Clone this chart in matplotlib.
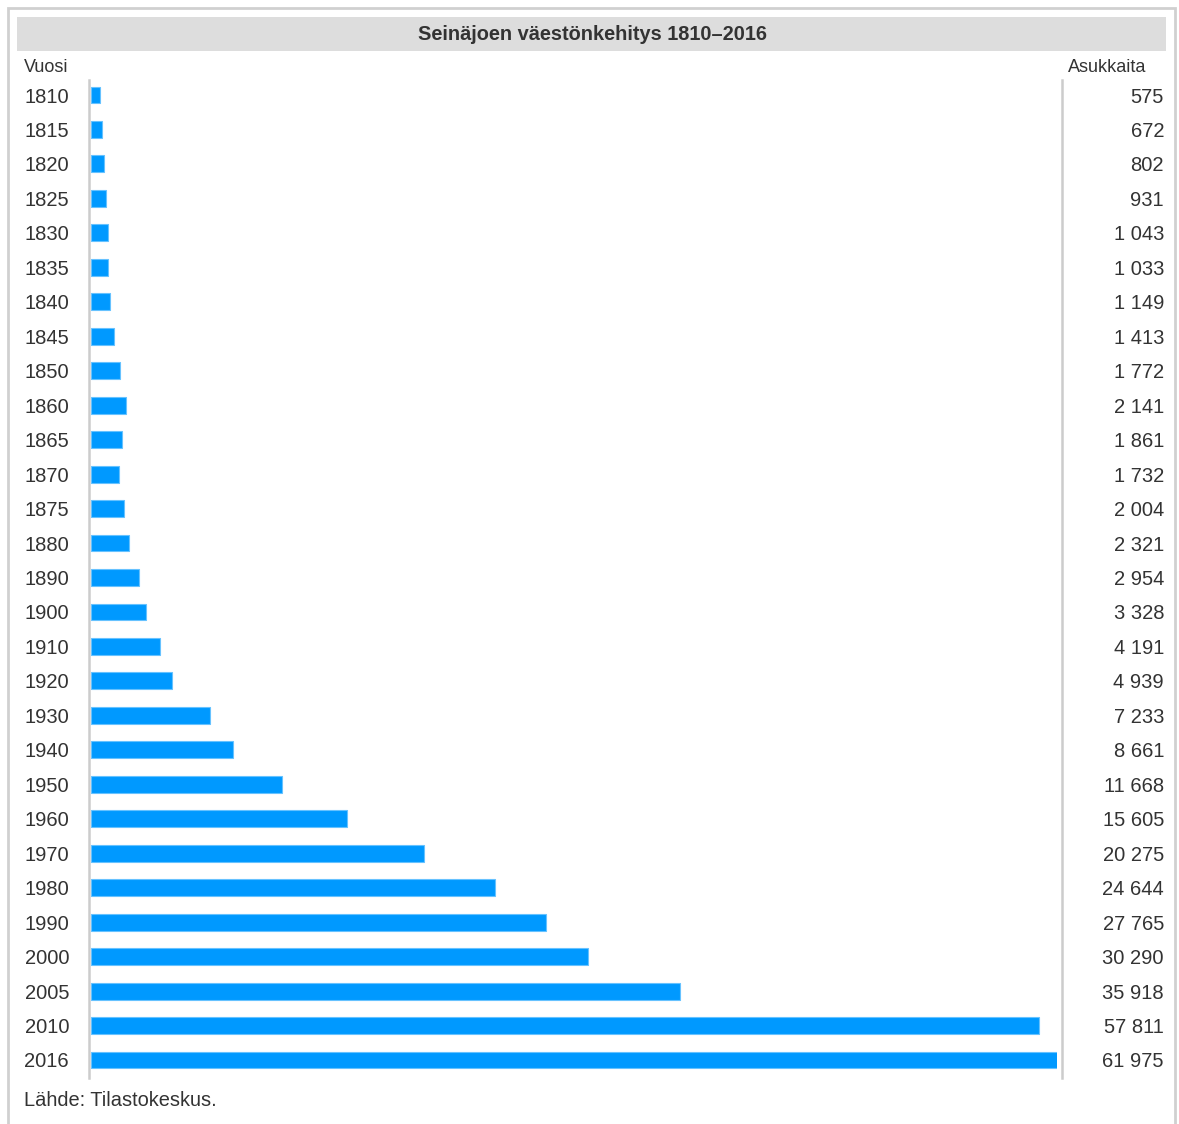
import numpy as np
import matplotlib
matplotlib.use('Agg')
import matplotlib.pyplot as plt
import matplotlib.transforms as mtransforms
from matplotlib.patches import Rectangle
from matplotlib.lines import Line2D

plt.rcParams['font.family'] = ['Liberation Sans', 'DejaVu Sans']

# Seinäjoki population, 1810-2016
years = ['1810', '1815', '1820', '1825', '1830', '1835', '1840', '1845', '1850',
         '1860', '1865', '1870', '1875', '1880', '1890', '1900', '1910', '1920',
         '1930', '1940', '1950', '1960', '1970', '1980', '1990', '2000', '2005',
         '2010', '2016']
population = [575, 672, 802, 931, 1043, 1033, 1149, 1413, 1772,
              2141, 1861, 1732, 2004, 2321, 2954, 3328, 4191, 4939,
              7233, 8661, 11668, 15605, 20275, 24644, 27765, 30290, 35918,
              57811, 61975]

W, H = 1179, 1124
fig = plt.figure(figsize=(W / 100, H / 100), dpi=100)
txt = '#333333'

def fx(px):
    return px / W

def fy(py):
    return 1 - py / H

# outer frame + title bar
fig.patches.append(Rectangle((fx(8), fy(1140)), fx(1175) - fx(8), fy(8) - fy(1140),
                             transform=fig.transFigure, fill=False,
                             edgecolor='#d0d0d0', linewidth=2))
fig.patches.append(Rectangle((fx(17), fy(51)), fx(1166) - fx(17), fy(17) - fy(51),
                             transform=fig.transFigure, facecolor='#dddddd',
                             edgecolor='none'))
fig.text(fx(592), fy(35), 'Seinäjoen väestönkehitys 1810–2016', ha='center',
         va='center', fontsize=14.4, fontweight='bold', color=txt)
fig.text(fx(24), fy(67), 'Vuosi', ha='left', va='center', fontsize=13, color=txt)
fig.text(fx(1146), fy(67), 'Asukkaita', ha='right', va='center', fontsize=13, color=txt)
fig.text(fx(24), fy(1101), 'Lähde: Tilastokeskus.', ha='left', va='center',
         fontsize=14.4, color=txt)

# separator lines
for x in (89, 1062):
    fig.lines.append(Line2D([fx(x), fx(x)], [fy(80), fy(1078)], transform=fig.transFigure,
                            color='#cccccc', linewidth=1.8))

ax = fig.add_axes([fx(91), fy(1078), fx(1057) - fx(91), fy(78) - fy(1078)])
n = len(years)
pos = np.arange(n)
ax.barh(pos, population, height=0.49, color='#0099ff', edgecolor='#66c2ff', linewidth=0.8)
ax.set_xlim(0, 58900)
ax.set_ylim(n - 1 + 18 / 34.46, -17 / 34.46)
ax.axis('off')

trans = mtransforms.blended_transform_factory(fig.transFigure, ax.transData)
trans = trans + mtransforms.ScaledTranslation(0, -2 / 100, fig.dpi_scale_trans)
for i, (yr, v) in enumerate(zip(years, population)):
    ax.text(fx(69), i, yr, transform=trans, ha='right', va='center', fontsize=14.5, color=txt)
    ax.text(fx(1164), i, f'{v:,}'.replace(',', ' '), transform=trans, ha='right',
            va='center', fontsize=14.5, color=txt)

fig.savefig('out.png', dpi=100)
